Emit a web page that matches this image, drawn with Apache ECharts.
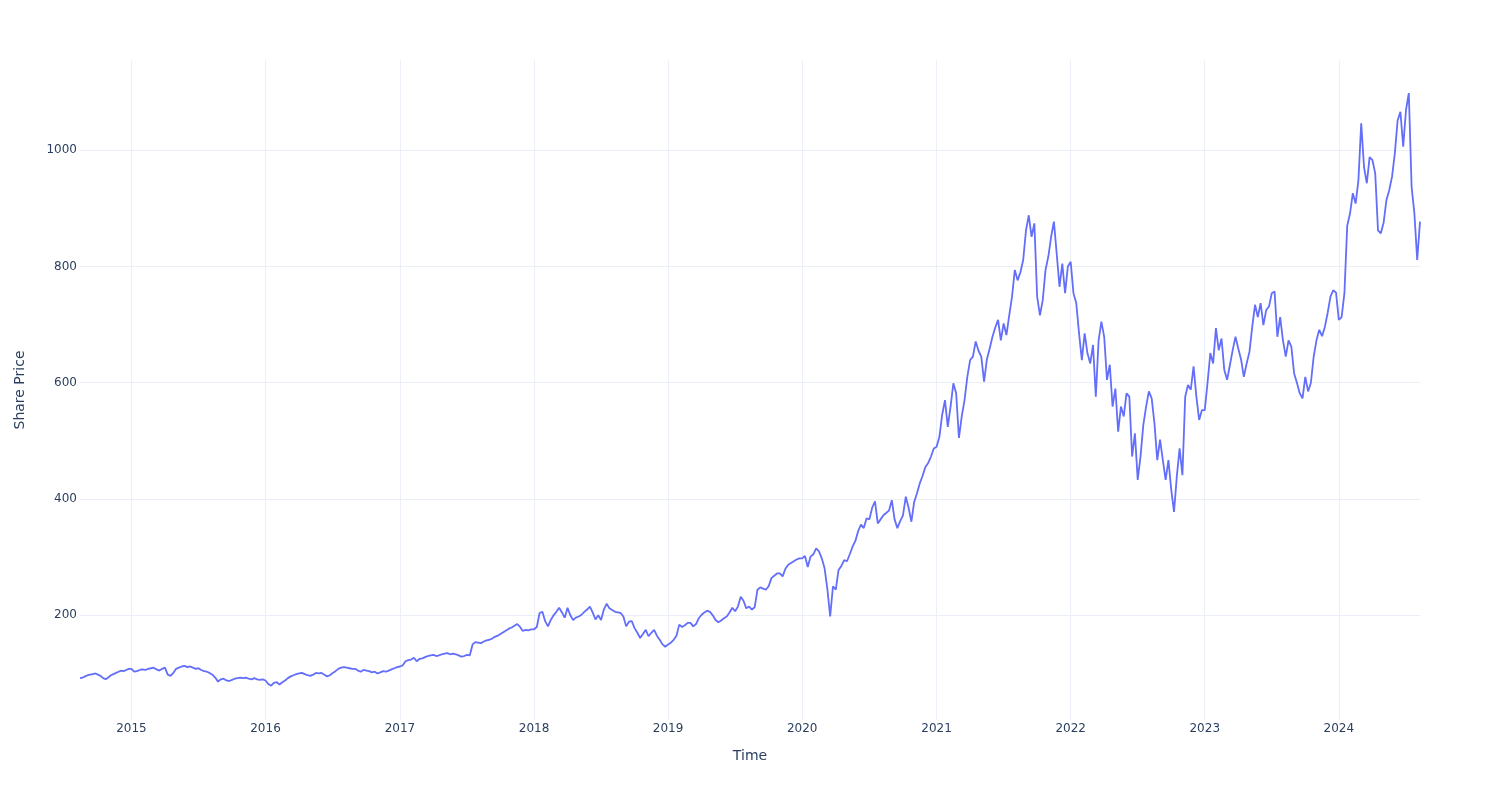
<!DOCTYPE html>
<html>
<head>
<meta charset="utf-8">
<script src="https://cdn.jsdelivr.net/npm/echarts@6/dist/echarts.min.js"></script>
<style>
html,body{margin:0;padding:0;background:#ffffff;}
#chart{width:1500px;height:800px;}
</style>
</head>
<body>
<div id="chart"></div>
<script>
// ---- data ----
const firstDate = '2014-08-14';
const lastDate = '2024-08-09';

const p2014 = [92, 93, 95, 97, 98, 99, 100, 98, 96, 92, 90, 93, 97, 99, 101, 103, 105, 104, 106, 108];
const p2015 = [108, 103, 104, 106, 107, 106, 108, 109, 110, 107, 105, 108, 110, 98, 96, 101,
               108, 110, 112, 113, 111, 112, 110, 108, 109, 106, 104, 103, 101, 98, 93, 86,
               90, 91, 88, 87, 89, 91, 92, 93, 92, 93, 91, 90, 92, 90, 89, 90];
const p2016 = [88, 82, 79, 84, 85, 81, 85, 88, 92, 95, 97, 99, 100, 101, 99, 97,
               96, 98, 101, 100, 101, 98, 95, 97, 101, 104, 108, 110, 111, 110, 109, 108,
               108, 105, 103, 106, 105, 104, 102, 103, 100, 102, 104, 103, 105, 107, 109, 111];
const p2017 = [112, 114, 121, 123, 124, 127, 121, 125, 126, 128, 130, 131, 132, 130, 131, 133,
               134, 135, 133, 134, 133, 131, 129, 130, 132, 131, 150, 154, 153, 152, 155, 157,
               158, 160, 163, 165, 168, 171, 174, 177, 179, 182, 185, 180, 173, 175, 174, 176];
const p2018 = [176, 180, 204, 206, 190, 181, 192, 200, 206, 213, 205, 196, 213, 200, 192, 196,
               198, 201, 206, 210, 215, 205, 193, 200, 192, 210, 220, 212, 209, 206, 205, 204,
               198, 181, 189, 190, 178, 170, 161, 168, 175, 164, 170, 175, 165, 158, 150, 146];
const p2019 = [150, 153, 158, 165, 184, 180, 183, 187, 187, 181, 185, 195, 201, 205, 208, 206,
               200, 192, 188, 191, 195, 198, 205, 213, 207, 215, 232, 225, 212, 215, 210, 214,
               244, 248, 246, 244, 250, 264, 268, 272, 272, 267, 280, 287, 290, 293, 296, 298];
const p2020 = [298, 302, 283, 301, 305, 315, 310, 298, 281, 245, 198, 250, 244, 278, 285, 295,
               293, 305, 318, 328, 345, 356, 350, 367, 365, 385, 396, 358, 365, 372, 376, 380,
               398, 365, 350, 362, 372, 404, 385, 361, 395, 410, 427, 440, 455, 462, 473, 487];
const p2021 = [490, 507, 545, 570, 524, 559, 599, 582, 505, 542, 570, 610, 639, 645, 671, 655,
               645, 602, 640, 659, 679, 695, 708, 673, 702, 682, 716, 748, 794, 776, 790, 811,
               862, 888, 851, 874, 748, 716, 742, 794, 817, 851, 877, 822, 765, 805, 754, 800];
const p2022 = [808, 754, 737, 685, 639, 685, 651, 633, 665, 576, 673, 705, 679, 605, 631, 559,
               590, 516, 559, 542, 582, 576, 473, 513, 433, 473, 527, 559, 585, 573, 530, 467,
               502, 467, 433, 467, 416, 378, 439, 487, 441, 576, 596, 588, 628, 576, 536, 553];
const p2023 = [553, 600, 651, 633, 694, 656, 676, 622, 605, 630, 656, 679, 659, 640, 610, 633,
               653, 696, 734, 713, 737, 699, 725, 731, 754, 757, 679, 713, 673, 645, 673, 662,
               616, 600, 582, 573, 610, 585, 600, 645, 673, 691, 680, 696, 720, 748, 759, 755];
const p2024 = [708, 713, 754, 870, 891, 926, 908, 948, 1046, 971, 943, 988, 983, 960, 862, 857,
               875, 914, 931, 954, 994, 1051, 1066, 1006, 1069, 1098, 937, 891, 811, 877];

const yearlyPrices = [
  [2014, p2014], [2015, p2015], [2016, p2016], [2017, p2017], [2018, p2018], [2019, p2019],
  [2020, p2020], [2021, p2021], [2022, p2022], [2023, p2023], [2024, p2024]
];

const yTickValues = [200, 400, 600, 800, 1000];
const xTickYears = [2015, 2016, 2017, 2018, 2019, 2020, 2021, 2022, 2023, 2024];

// ---- build the series: each year's weekly values are spread across that year ----
function buildPoints() {
  const pts = [];
  const last = yearlyPrices.length - 1;
  yearlyPrices.forEach(([yr, vals], k) => {
    const start = k === 0 ? Date.parse(firstDate) : Date.UTC(yr, 0, 1);
    const end = k === last ? Date.parse(lastDate) : Date.UTC(yr + 1, 0, 1);
    const n = k === last ? vals.length - 1 : vals.length;
    vals.forEach((v, i) => pts.push([start + (end - start) * i / n, v]));
  });
  return pts;
}

const xTickValues = xTickYears.map(y => Date.UTC(y, 0, 1));
const textColor = '#2a3f5f';
const gridColor = '#ebf0f8';
const fontFamily = '"DejaVu Sans", Verdana, sans-serif';

const chart = echarts.init(document.getElementById('chart'), null, { renderer: 'canvas' });
chart.setOption({
  animation: false,
  backgroundColor: '#ffffff',
  grid: { left: 80, right: 80, top: 60, bottom: 80, containLabel: false },
  xAxis: {
    type: 'value',
    min: Date.parse(firstDate),
    max: Date.parse(lastDate),
    name: 'Time',
    nameLocation: 'middle',
    nameGap: 29,
    nameTextStyle: { color: textColor, fontSize: 14, fontFamily: fontFamily },
    axisLine: { show: false },
    axisTick: { show: false, customValues: xTickValues },
    axisLabel: {
      customValues: xTickValues,
      color: textColor, fontSize: 12, fontFamily: fontFamily, margin: 3,
      formatter: v => String(new Date(v).getUTCFullYear())
    },
    splitLine: { show: true, lineStyle: { color: gridColor, width: 1 } }
  },
  yAxis: {
    type: 'value',
    min: 20,
    max: 1155,
    name: 'Share Price',
    nameLocation: 'middle',
    nameGap: 53,
    nameTextStyle: { color: textColor, fontSize: 14, fontFamily: fontFamily },
    axisLine: { show: false },
    axisTick: { show: false, customValues: yTickValues },
    axisLabel: {
      customValues: yTickValues,
      color: textColor, fontSize: 12, fontFamily: fontFamily, margin: 3,
      formatter: v => String(v)
    },
    splitLine: { show: true, lineStyle: { color: gridColor, width: 1 } }
  },
  series: [{
    type: 'line',
    data: buildPoints(),
    showSymbol: false,
    symbol: 'none',
    lineStyle: { color: '#636efa', width: 1.8 },
    itemStyle: { color: '#636efa' }
  }]
});
</script>
</body>
</html>
